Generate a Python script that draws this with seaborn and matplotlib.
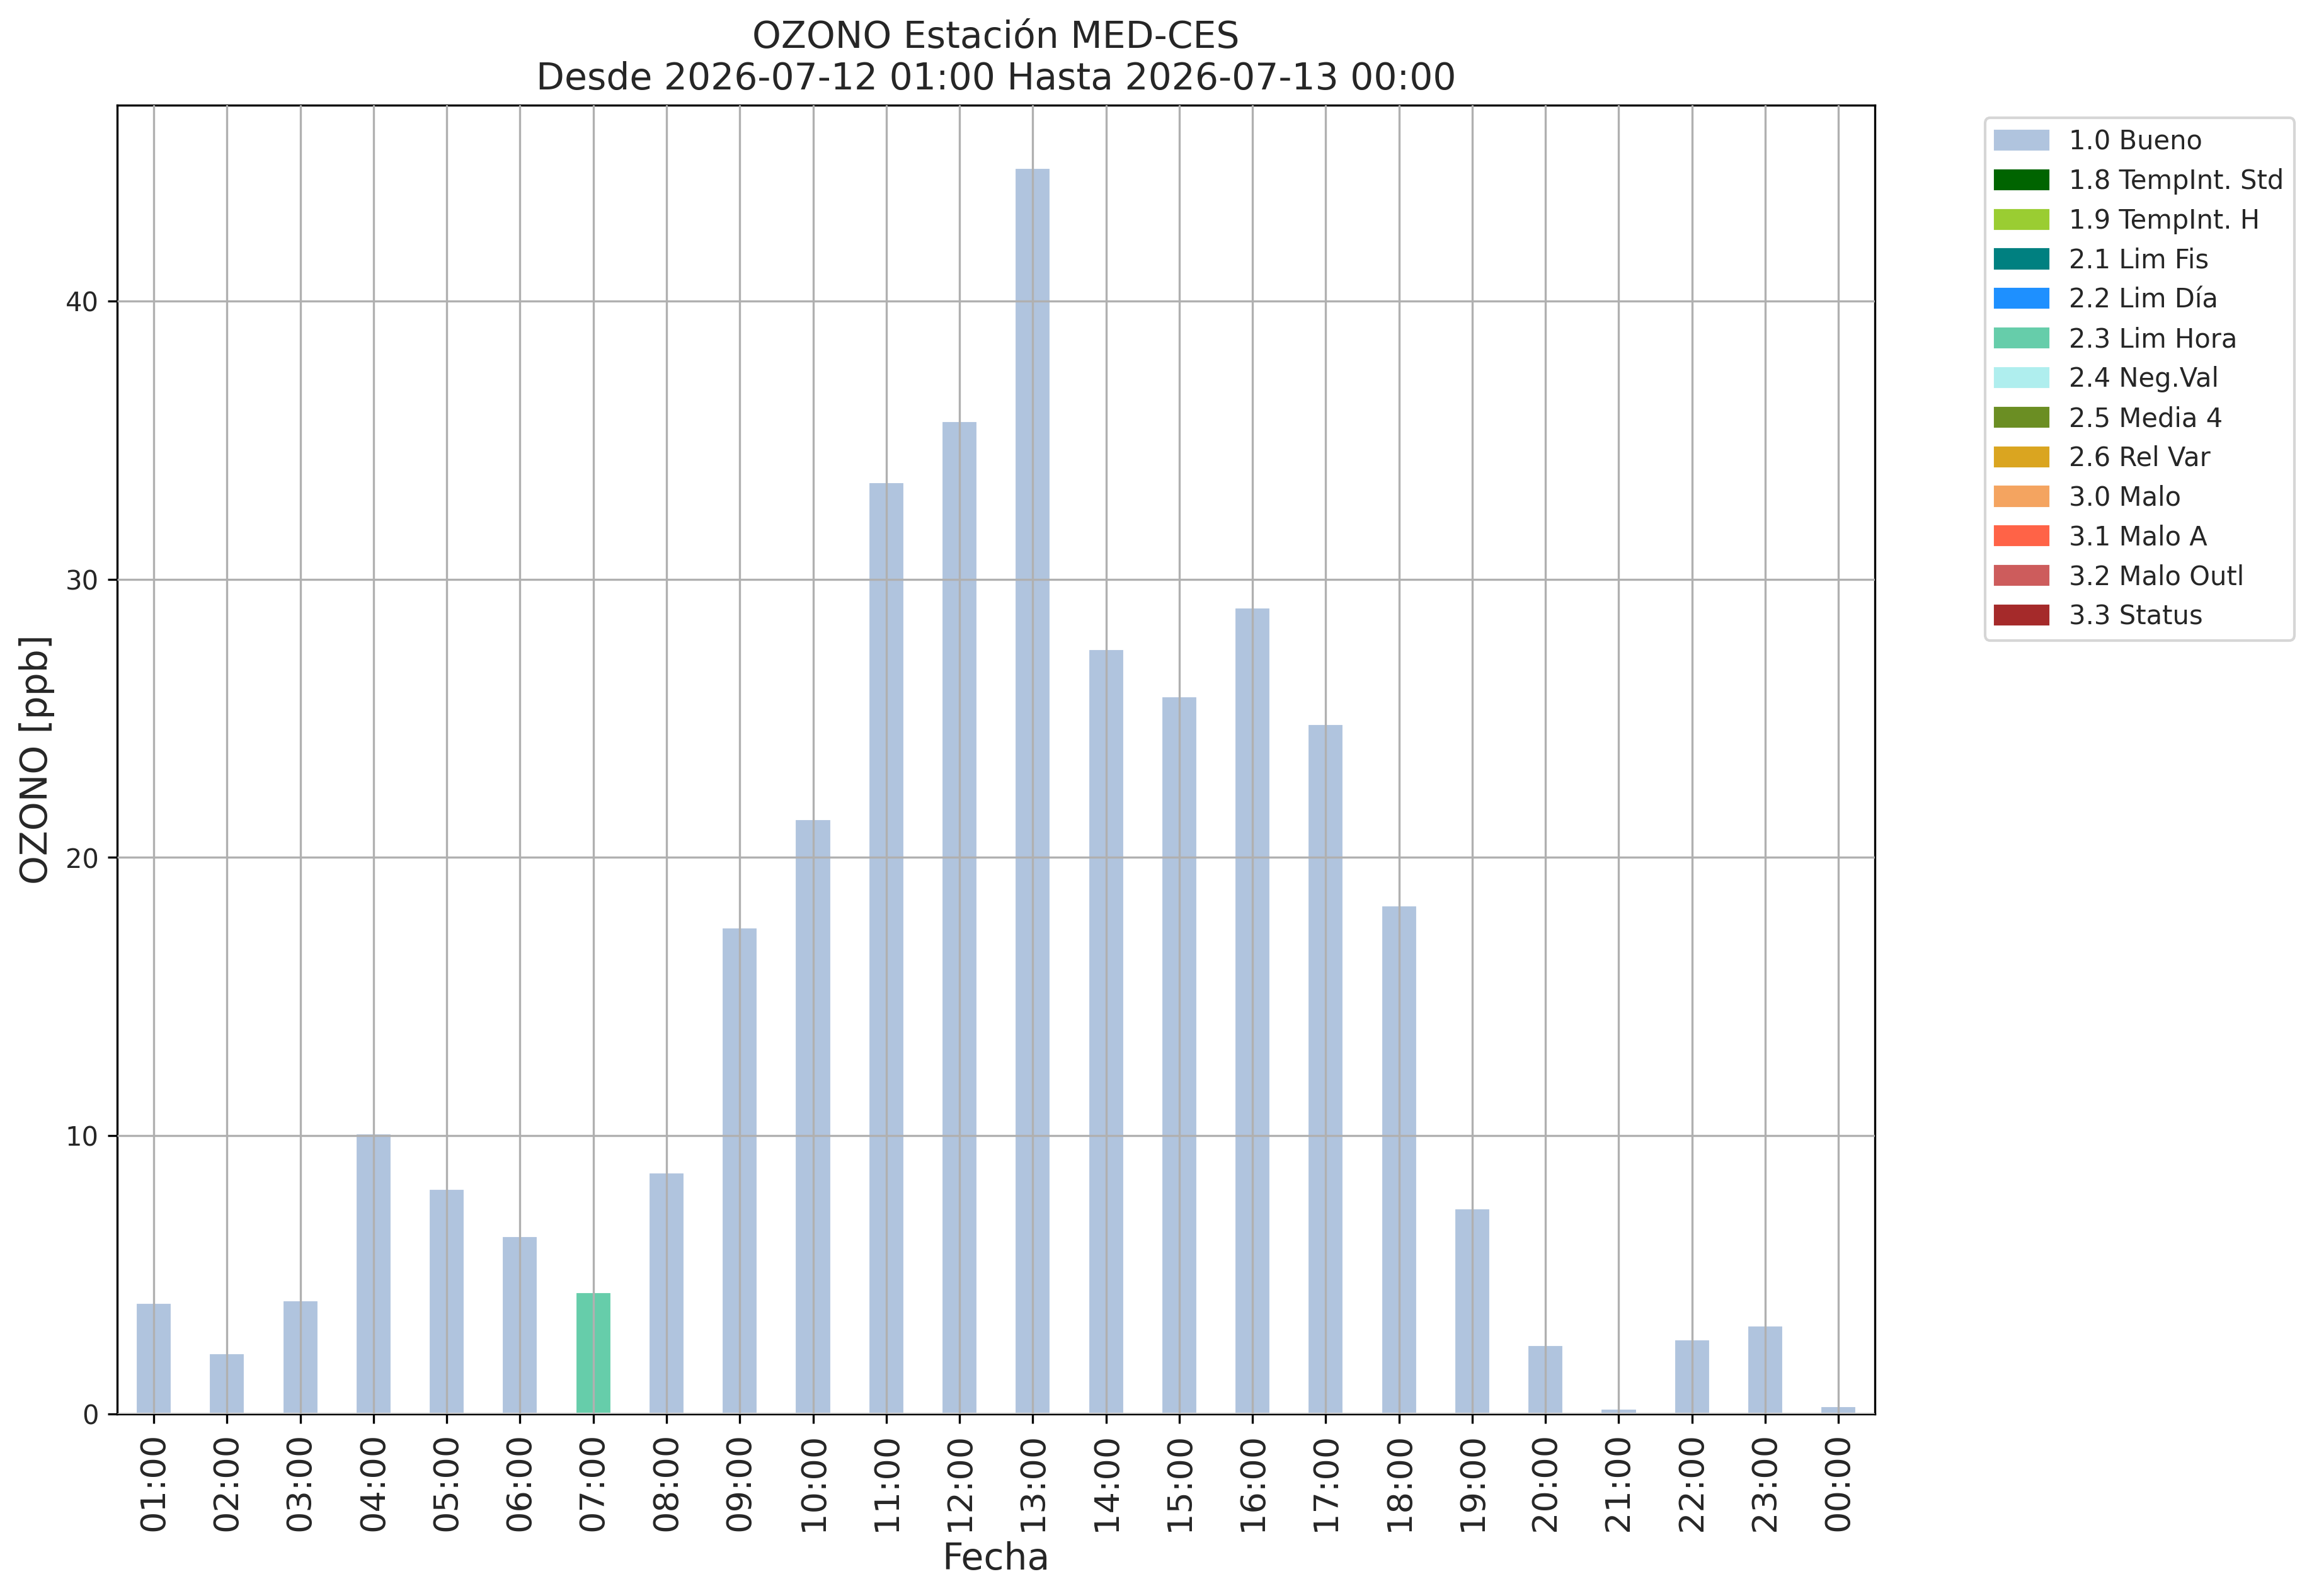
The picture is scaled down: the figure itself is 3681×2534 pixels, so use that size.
import pandas as pd
import matplotlib
matplotlib.use("Agg")
import matplotlib.pyplot as plt
import matplotlib.patches as mpatches
import seaborn as sns

# Datos horarios de ozono (ppb) y bandera de calidad de cada hora
horas = ["01:00", "02:00", "03:00", "04:00", "05:00", "06:00", "07:00", "08:00",
         "09:00", "10:00", "11:00", "12:00", "13:00", "14:00", "15:00", "16:00",
         "17:00", "18:00", "19:00", "20:00", "21:00", "22:00", "23:00", "00:00"]
valores = [4.0, 2.2, 4.1, 10.1, 8.1, 6.4, 4.4, 8.7, 17.5, 21.4, 33.5, 35.7,
           44.8, 27.5, 25.8, 29.0, 24.8, 18.3, 7.4, 2.5, 0.2, 2.7, 3.2, 0.3]
banderas = ["1.0 Bueno"] * 6 + ["2.3 Lim Hora"] + ["1.0 Bueno"] * 17

# Leyenda de banderas de calidad
etiquetas = ["1.0 Bueno", "1.8 TempInt. Std", "1.9 TempInt. H", "2.1 Lim Fis",
             "2.2 Lim Día", "2.3 Lim Hora", "2.4 Neg.Val", "2.5 Media 4",
             "2.6 Rel Var", "3.0 Malo", "3.1 Malo A", "3.2 Malo Outl", "3.3 Status"]
colores = ["lightsteelblue", "darkgreen", "yellowgreen", "teal", "dodgerblue",
           "mediumaquamarine", "paleturquoise", "olivedrab", "goldenrod",
           "sandybrown", "tomato", "indianred", "brown"]

sns.set_style("ticks")
plt.rcParams["font.family"] = ["DejaVu Sans"]

df = pd.DataFrame({"Fecha": horas, "valor": valores, "bandera": banderas})
paleta = dict(zip(etiquetas, colores))

fig, ax = plt.subplots(figsize=(12.273, 8.447), dpi=300)
fig.subplots_adjust(left=0.0505, right=0.8084, top=0.9342, bottom=0.114)

sns.barplot(data=df, x="Fecha", y="valor", hue="bandera", palette=paleta,
            order=horas, dodge=False, width=0.5, saturation=1, legend=False,
            ax=ax, zorder=1)

ax.grid(True, color="#b0b0b0", linewidth=0.8, zorder=2)
ax.set_axisbelow(False)
ax.set_xlim(-0.5, len(horas) - 0.5)
ax.set_ylim(0, max(valores) * 1.05)
ax.set_yticks([0, 10, 20, 30, 40])

for s in ax.spines.values():
    s.set_color("black")
    s.set_linewidth(0.8)

ax.tick_params(axis="x", labelsize=13, rotation=90, length=3.5, width=0.8, color="black")
ax.tick_params(axis="y", labelsize=10, length=3.5, width=0.8, color="black")
ax.set_xlabel("Fecha", fontsize=14)
ax.set_ylabel("OZONO [ppb]", fontsize=14)
ax.set_title("OZONO Estación MED-CES\nDesde 2026-07-12 01:00 Hasta 2026-07-13 00:00",
             fontsize=14)

handles = [mpatches.Patch(color=c, label=l) for l, c in zip(etiquetas, colores)]
ax.legend(handles=handles, bbox_to_anchor=(1.055, 1), loc="upper left",
          fontsize=10, frameon=True)

fig.savefig("out.png", dpi=300)
